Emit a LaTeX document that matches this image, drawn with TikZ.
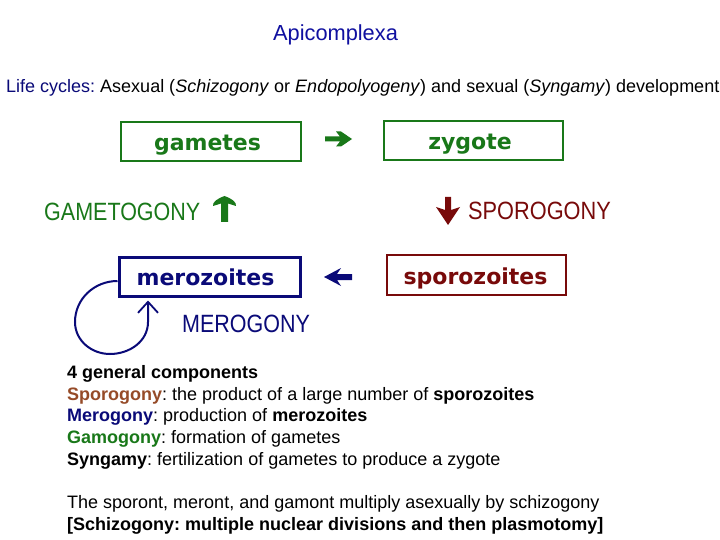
\documentclass[tikz,border=0pt]{standalone}
\usepackage{fontspec}
\setmainfont{Liberation Sans}
\newfontfamily\boxfont{DejaVu Sans}
\usetikzlibrary{arrows.meta}
\frenchspacing
\definecolor{titleblue}{RGB}{16,16,160}
\definecolor{navyc}{RGB}{10,10,120}
\definecolor{greenc}{RGB}{25,120,25}
\definecolor{redc}{RGB}{120,10,10}
\definecolor{brownc}{RGB}{150,75,40}
\tikzset{
  stagebox/.style={draw, rectangle, inner sep=0pt, text height=28.5pt, text depth=10.5pt, font=\boxfont\bfseries\fontsize{22}{22}\selectfont},
  phase/.style={inner sep=0pt, anchor=base west, font=\fontsize{25}{25}\selectfont},
  bodyline/.style={inner sep=0pt, anchor=base west, font=\fontsize{18}{21}\selectfont},
}
\begin{document}
\begin{tikzpicture}[x=1pt,y=-1pt]
\useasboundingbox (0,0) rectangle (720,540);
\fill[white] (0,0) rectangle (720,540);

% title
\node[inner sep=0pt, anchor=base, text=titleblue, font=\fontsize{21.8}{22}\selectfont] (title) at (335.5,41) {Apicomplexa};
\node[bodyline] (life) at (6,93) {\textcolor{navyc}{Life cycles:} Asexual (\textit{Schizogony} or \textit{Endopolyogeny}) and sexual (\textit{Syngamy}) development};

% boxes
\node[stagebox, draw=greenc, text=greenc, line width=2pt, minimum width=180pt, minimum height=39pt] (gam) at (211,141.5) {gametes\kern7pt};
\node[stagebox, draw=greenc, text=greenc, line width=2pt, minimum width=179pt, minimum height=39pt] (zyg) at (473.5,140.5) {zygote\kern7pt};
\node[stagebox, draw=navyc, text=navyc, line width=3pt, minimum width=181pt, minimum height=39pt] (mer) at (209.5,276.5) {merozoites\kern8pt};
\node[stagebox, draw=redc, text=redc, line width=1.5pt, minimum width=179pt, minimum height=40pt] (spo) at (476.5,275) {sporozoites\kern2pt};

% phase labels
\node[phase, text=greenc] (gtg) at (44,221) {\scalebox{0.86}[1]{GAMETOGONY}};
\node[phase, text=redc] (spg) at (468,219) {\scalebox{0.87}[1]{SPOROGONY}};
\node[phase, text=navyc] (mrg) at (182,332) {\scalebox{0.86}[1]{MEROGONY}};

% block arrows
\coordinate (ra) at (325,139);
\fill[greenc] (ra) ++(0,-2.5) -- ++(15,0) -- ++(-4,-5) -- ++(5,0) -- ++(11,7.5) -- ++(-11,7.5) -- ++(-5,0) -- ++(4,-5) -- ++(-15,0) -- cycle;
\coordinate (ua) at (224.5,196);
\fill[greenc] (ua) .. controls ++(6,2) and ++(1,-4) .. ++(11.5,10) -- ++(-8,-2.5) -- ++(0,18.5) -- ++(-7,0) -- ++(0,-18.5) -- ++(-8,2.5) .. controls ++(-1,-4) and ++(-6,2) .. (ua) -- cycle;
\coordinate (da) at (448,225);
\fill[redc] (da) -- ++(12,-18) -- ++(-9,3) -- ++(0,-13) -- ++(-6,0) -- ++(0,13) -- ++(-9,-3) -- cycle;
\coordinate (la) at (324,277);
\fill[navyc] (la) -- ++(17,-9) -- ++(-4,6) -- ++(15,0) -- ++(0,6) -- ++(-15,0) -- ++(4,6) -- cycle;

% merogony loop
\coordinate (loopend) at (148,300.5);
\draw[navyc, line width=2pt, -{Straight Barb[length=11pt,width=20pt,line width=1.8pt]}]
  ([yshift=-4.5pt]mer.west) to[out=180,in=90] (75,322) to[out=-90,in=180] (110,354) to[out=0,in=-90] (148,322) -- (loopend);

% body text
\node[bodyline] (l1) at (67,378) {\textbf{4 general components}};
\node[bodyline] (l2) at (67,400) {\textcolor{brownc}{\textbf{Sporogony}}: the product of a large number of \textbf{sporozoites}};
\node[bodyline] (l3) at (67,421) {\textcolor{navyc}{\textbf{Merogony}}: production of \textbf{merozoites}};
\node[bodyline] (l4) at (67,443) {\textcolor{greenc}{\textbf{Gamogony}}: formation of gametes};
\node[bodyline] (l5) at (67,465) {\textbf{Syngamy}: fertilization of gametes to produce a zygote};
\node[bodyline] (l6) at (67,508) {The sporont, meront, and gamont multiply asexually by schizogony};
\node[bodyline] (l7) at (67,530) {\textbf{[Schizogony: multiple nuclear divisions and then plasmotomy]}};
\end{tikzpicture}
\end{document}
